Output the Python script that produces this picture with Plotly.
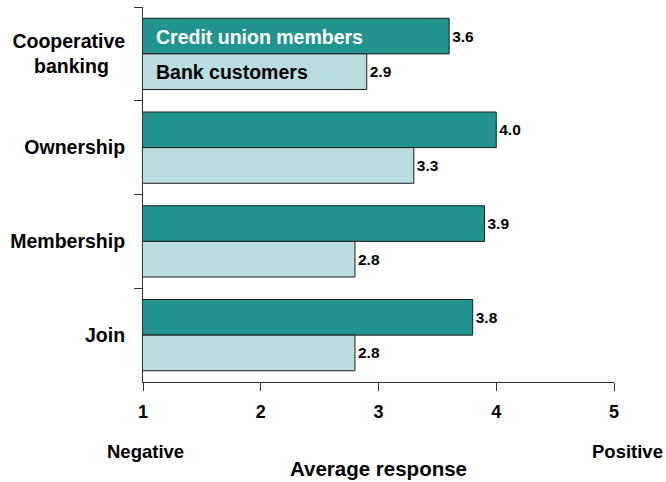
import plotly.graph_objects as go

categories = ["Cooperative<br>banking\u00a0\u00a0\u00a0", "Ownership", "Membership", "Join"]
credit_union = [3.6, 4.0, 3.9, 3.8]
bank_customers = [2.9, 3.3, 2.8, 2.8]
tick_values = [1, 2, 3, 4, 5]

DARK = "#21948F"
LIGHT = "#B9DDE0"
FONT = "Liberation Sans, Arial, sans-serif"

# plot area in pixels: x 143..614, y 7..382
L, R, T, B = 143, 614, 7, 382


def px_x(px):
    return (px - L) / (R - L)


def px_y(py):
    return (B - py) / (B - T)


label_font = dict(family=FONT, size=15.5, color="black", weight="bold")

fig = go.Figure()
fig.add_trace(go.Bar(
    y=categories, x=credit_union, orientation="h", name="Credit union members",
    marker=dict(color=DARK, line=dict(color="#1c1c1c", width=1)),
    text=[f"{v:.1f}" for v in credit_union], textposition="outside",
    textfont=label_font, cliponaxis=False,
))
fig.add_trace(go.Bar(
    y=categories, x=bank_customers, orientation="h", name="Bank customers",
    marker=dict(color=LIGHT, line=dict(color="#1c1c1c", width=1)),
    text=[f"{v:.1f}" for v in bank_customers], textposition="outside",
    textfont=label_font, cliponaxis=False,
))

fig.update_layout(
    width=666, height=482,
    margin=dict(l=L, r=666 - R, t=T, b=482 - B),
    paper_bgcolor="white", plot_bgcolor="white",
    barmode="group", bargap=0.24, bargroupgap=0,
    showlegend=False,
    font=dict(family=FONT, size=18, color="black"),
    xaxis=dict(
        range=[1, 5], tickvals=tick_values, ticks="outside", ticklen=8,
        tickcolor="#333", showline=True, linecolor="#333", linewidth=1,
        showgrid=False, zeroline=False, ticklabelstandoff=5,
        tickfont=dict(family=FONT, size=18, color="black", weight="bold"),
    ),
    yaxis=dict(
        autorange="reversed", ticks="outside", ticklen=8, tickson="boundaries",
        tickcolor="#333", showline=True, linecolor="#333", linewidth=1,
        showgrid=False, ticklabelstandoff=13,
        tickfont=dict(family=FONT, size=19.5, color="black", weight="bold"),
    ),
)

# Series names written inside the first pair of bars
fig.add_annotation(x=1, y=categories[0], xref="x", yref="y", xanchor="left",
                   xshift=11, yshift=17, showarrow=False, text="Credit union members",
                   font=dict(family=FONT, size=19.5, color="white", weight="bold"))
fig.add_annotation(x=1, y=categories[0], xref="x", yref="y", xanchor="left",
                   xshift=11, yshift=-18, showarrow=False, text="Bank customers",
                   font=dict(family=FONT, size=19.5, color="black", weight="bold"))

# Scale end labels and axis title
end_font = dict(family=FONT, size=18.5, color="black", weight="bold")
fig.add_annotation(x=px_x(145), y=px_y(451), xref="paper", yref="paper",
                   xanchor="center", yanchor="middle", showarrow=False,
                   text="Negative", font=end_font)
fig.add_annotation(x=px_x(627), y=px_y(451), xref="paper", yref="paper",
                   xanchor="center", yanchor="middle", showarrow=False,
                   text="Positive", font=end_font)
fig.add_annotation(x=px_x(378), y=px_y(468), xref="paper", yref="paper",
                   xanchor="center", yanchor="middle", showarrow=False,
                   text="Average response",
                   font=dict(family=FONT, size=20.5, color="black", weight="bold"))

fig.write_html("out.html")
